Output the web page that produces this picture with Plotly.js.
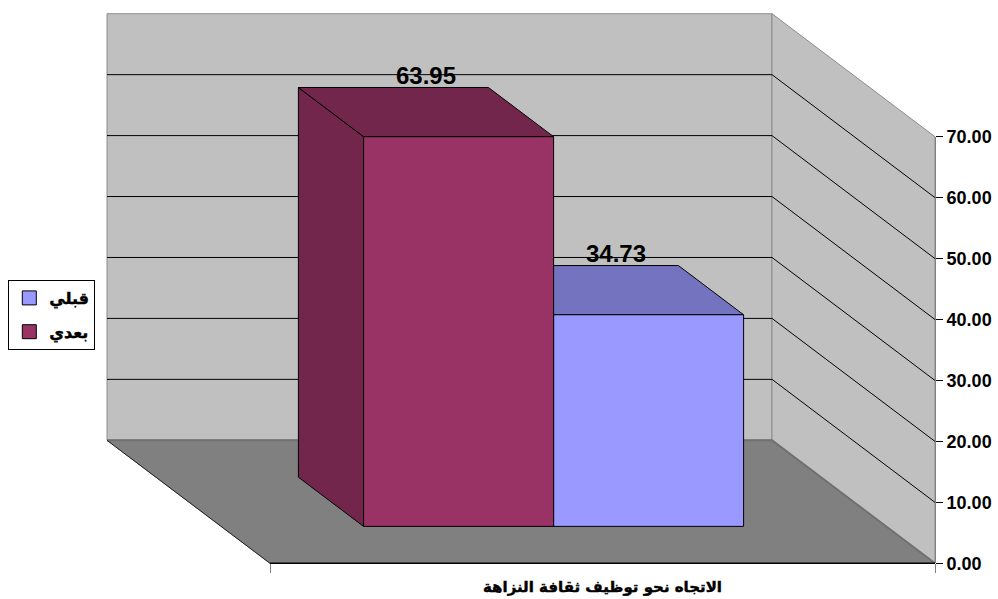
<!DOCTYPE html>
<html><head><meta charset="utf-8">
<script src="https://cdn.plot.ly/plotly-3.0.1.min.js"></script>
<style>
html,body{margin:0;padding:0;background:#fff}
#chart{width:998px;height:599px}
#chart .legendtext, #chart .xtick text{stroke:#000;stroke-width:0.45px}
</style>
</head><body><div id="chart"></div>
<script>
// ---------- data ----------
const categories = ['الاتجاه نحو توظيف ثقافة النزاهة'];
const seriesNames = ['قبلي', 'بعدي'];
const valuesBefore = [34.73];
const valuesAfter = [63.95];
const tickValues = [0, 10, 20, 30, 40, 50, 60, 70];
const tickLabels = ['0.00', '10.00', '20.00', '30.00', '40.00', '50.00', '60.00', '70.00'];

// ---------- style / geometry ----------
const W = 998, H = 599;
const X0 = 270, X1 = 935;          // front category span in px
const Y0 = 563.3;                  // px of front value 0
const PXV = 6.094;                 // px per value unit
const DEPTH_PX = [-163, -123];     // oblique shift for full depth
const DU = DEPTH_PX[0] / (X1 - X0);
const DV = -DEPTH_PX[1] / PXV;
const BAR_FRONT = 0.3, BAR_BACK = 0.7;
const GAP = 1.5;
const FRONT_COLORS = ['#9999FF', '#993366'];
const DARK_COLORS = ['#7373BF', '#73264C'];
const FONT = "Arial, 'Liberation Sans', sans-serif";
const AR_FONT = "'DejaVu Sans', sans-serif";

const seriesValues = [valuesBefore, valuesAfter];
const wallMax = tickValues[tickValues.length - 1];

function P(u, v, d) { return [u + d * DU, v + d * DV]; }
function poly(pts, fill, lc, lw) {
  const x = pts.map(p => p[0]), y = pts.map(p => p[1]);
  x.push(x[0]); y.push(y[0]);
  return {type: 'scatter', mode: 'lines', x, y, fill: 'toself', fillcolor: fill,
    line: {color: lc, width: lw}, hoverinfo: 'skip', showlegend: false};
}
function line(pts, lc, lw) {
  return {type: 'scatter', mode: 'lines', x: pts.map(p => p[0]), y: pts.map(p => p[1]),
    line: {color: lc, width: lw}, hoverinfo: 'skip', showlegend: false};
}

const traces = [];
// walls & floor
traces.push(poly([P(0,0,1), P(1,0,1), P(1,wallMax,1), P(0,wallMax,1)], '#C0C0C0', '#8c8c8c', 1));
traces.push(poly([P(1,0,1), P(1,0,0), P(1,wallMax,0), P(1,wallMax,1)], '#C0C0C0', '#8c8c8c', 1));
traces.push(poly([P(0,0,1), P(1,0,1), P(1,0,0), P(0,0,0)], '#808080', '#808080', 1));
traces.push(line([P(0,0,1), P(1,0,1), P(1,0,0)], '#707070', 2));
traces.push(line([P(0,0,1), P(0,0,0)], '#202020', 1));
traces.push(line([P(0,0,0), P(1,0,0)], '#000000', 1.5));
// gridlines
tickValues.forEach(v => {
  if (v > 0 && v < wallMax) traces.push(line([P(0,v,1), P(1,v,1), P(1,v,0)], '#000000', 1));
});

// bars (axis reversed: first series at right)
const n = seriesNames.length;
const w = 1 / (n + GAP);
const annotations = [];
categories.forEach((cat, c) => {
  for (let s = 0; s < n; s++) {
    const k = n - 1 - s;
    const uL = c + (GAP / 2) * w + k * w, uR = uL + w;
    const v = seriesValues[s][c];
    const f = BAR_FRONT, b = BAR_BACK;
    traces.push(poly([P(uL,0,f), P(uL,v,f), P(uL,v,b), P(uL,0,b)], DARK_COLORS[s], '#000', 1));
    traces.push(poly([P(uL,v,f), P(uR,v,f), P(uR,v,b), P(uL,v,b)], DARK_COLORS[s], '#000', 1));
    traces.push(poly([P(uL,0,f), P(uR,0,f), P(uR,v,f), P(uL,v,f)], FRONT_COLORS[s], '#000', 1));
    const lp = P((uL + uR) / 2, v, (f + b) / 2);
    annotations.push({x: lp[0], y: lp[1], xref: 'x', yref: 'y', text: v.toFixed(2),
      showarrow: false, yanchor: 'bottom', yshift: 21,
      font: {family: FONT, size: 24, weight: 'bold', color: '#000'}});
  }
});

// legend entries
seriesNames.forEach((name, s) => {
  traces.push({type: 'scatter', mode: 'markers', x: [-10], y: [-100], name: name,
    legendgroup: name, hoverinfo: 'skip',
    marker: {symbol: 'square', size: 14, color: FRONT_COLORS[s], line: {color: '#000', width: 1}}});
});
// value axis carrier
traces.push({type: 'scatter', mode: 'markers', x: [null], y: [null], yaxis: 'y2',
  showlegend: false, hoverinfo: 'skip'});

const layout = {
  width: W, height: H,
  margin: {l: 0, r: 0, t: 0, b: 0},
  paper_bgcolor: '#fff', plot_bgcolor: 'rgba(0,0,0,0)',
  showlegend: true,
  xaxis: {range: [-X0 / (X1 - X0), (W - X0) / (X1 - X0)], anchor: 'free', position: (H - Y0) / H,
    tickmode: 'array', tickvals: categories.map((_, i) => i + 0.5), ticktext: categories,
    ticks: '', showline: false, showgrid: false, zeroline: false, ticklabelstandoff: 13,
    tickfont: {family: AR_FONT, size: 15, weight: 'bold', color: '#000'},
    minor: {tickmode: 'array', tickvals: [0, 1], ticks: 'outside', ticklen: 9, tickcolor: '#808080', showgrid: false},
    fixedrange: true},
  yaxis: {range: [-(H - Y0) / PXV, Y0 / PXV], visible: false, fixedrange: true},
  yaxis2: {domain: [(H - Y0) / H, (H - (Y0 - wallMax * PXV)) / H], range: [0, wallMax],
    anchor: 'free', position: X1 / W, side: 'right',
    tickmode: 'array', tickvals: tickValues, ticktext: tickLabels,
    ticks: 'outside', ticklen: 7, tickcolor: '#000', showline: true, linecolor: '#808080', linewidth: 1,
    showgrid: false, zeroline: false,
    tickfont: {family: FONT, size: 18, weight: 'bold', color: '#000'}, fixedrange: true},
  legend: {x: 8.3 / W, y: (H - 280) / H, xanchor: 'left', yanchor: 'top',
    bordercolor: '#000', borderwidth: 1, bgcolor: '#fff', traceorder: 'grouped', tracegroupgap: 10,
    font: {family: AR_FONT, size: 16, weight: 'bold', color: '#000'}},
  annotations: annotations
};

Plotly.newPlot('chart', traces, layout, {displayModeBar: false, staticPlot: true});
</script></body></html>
